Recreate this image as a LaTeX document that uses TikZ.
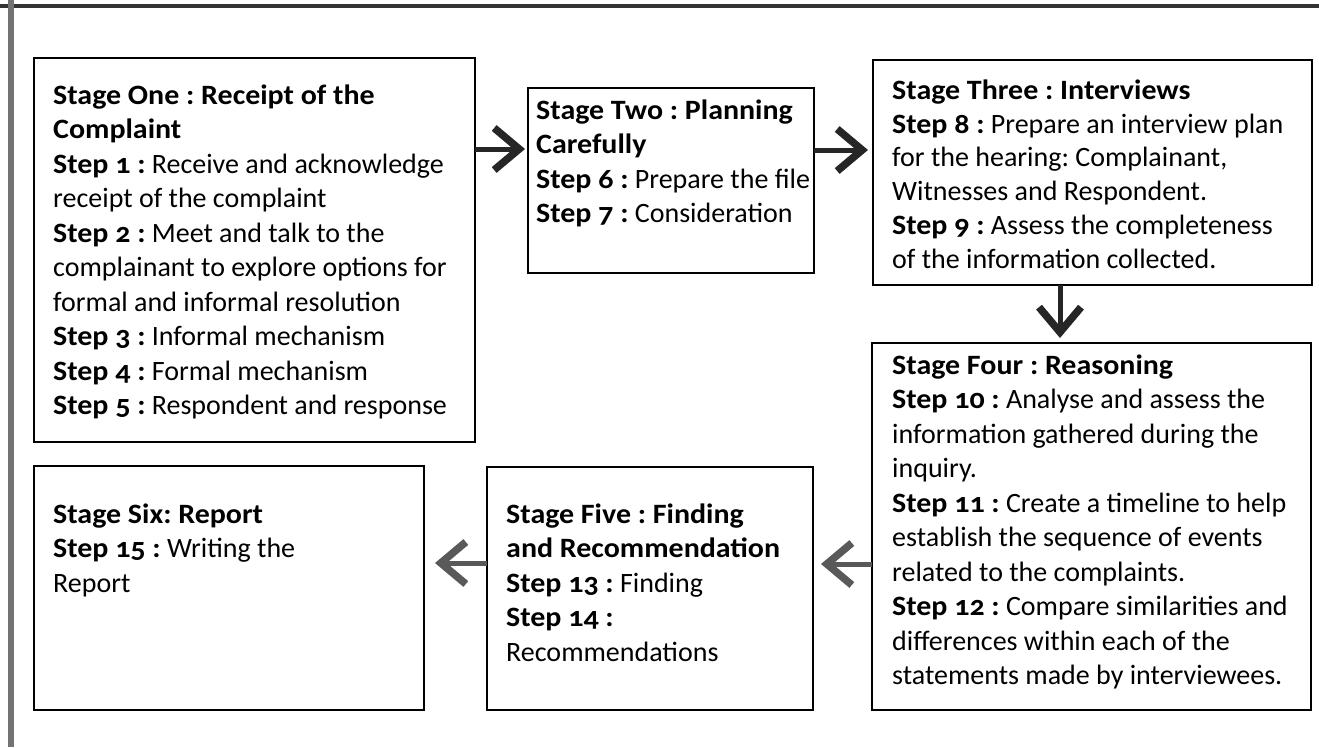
\documentclass[tikz,border=0pt]{standalone}
\usepackage{fontspec}
\setmainfont{Carlito}[Numbers=OldStyle, BoldFeatures={FakeStretch=1.07}]
\usetikzlibrary{arrows.meta}
\frenchspacing
\begin{document}
\begin{tikzpicture}[x=1pt,y=-1pt,
  box/.style={draw=black, line width=2.6pt, anchor=north west, inner sep=0pt, outer sep=0pt},
  txt/.style={anchor=north west, inner sep=0pt, align=left, text=black,
    font=\fontsize{28}{34.5}\selectfont\frenchspacing},
  txtb/.style={txt, font=\fontsize{28}{33.8}\selectfont\frenchspacing},
  conn/.style={line width=5pt, draw=black!85,
    -{Straight Barb[length=25pt,width=42pt,line width=7.5pt]}},
  connl/.style={conn, draw=black!65}
]
\useasboundingbox (0,0) rectangle (1319,747);
% page frame
\draw[line width=4pt, black!80] (0,5.5) -- (1319,5.5);
\draw[line width=6pt, black!55] (11,0) -- (11,747);

% boxes
\node[box, minimum width=441, minimum height=384] (b1) at (34,58) {};
\node[box, minimum width=286, minimum height=185] (b2) at (528,88) {};
\node[box, minimum width=439, minimum height=225] (b3) at (873,60) {};
\node[box, minimum width=439, minimum height=367] (b4) at (872,343) {};
\node[box, minimum width=326, minimum height=243] (b5) at (487,467) {};
\node[box, minimum width=390, minimum height=244] (b6) at (34,466) {};

% texts
\node[txt] (t1) at (53,{104-24.15}) {\strut\textbf{Stage One : Receipt of the}\\
\textbf{Complaint}\\
\textbf{Step 1 :} Receive and acknowledge\\
receipt of the complaint\\
\textbf{Step 2 :} Meet and talk to the\\
complainant to explore options for\\
formal and informal resolution\\
\textbf{Step 3 :} Informal mechanism\\
\textbf{Step 4 :} Formal mechanism\\
\textbf{Step 5 :} Respondent and response};

\node[txt] (t2) at (536,{119-24.15}) {\strut\textbf{Stage Two : Planning}\\
\textbf{Carefully}\\
\textbf{Step 6 :} Prepare the file\\
\textbf{Step 7 :} Consideration};

\node[txtb] (t3) at (892,{99-23.66}) {\strut\textbf{Stage Three : Interviews}\\
\textbf{Step 8 :} Prepare an interview plan\\
for the hearing: Complainant,\\
Witnesses and Respondent.\\
\textbf{Step 9 :} Assess the completeness\\
of the information collected.};

\node[txt] (t4) at (892,{374-24.15}) {\strut\textbf{Stage Four : Reasoning}\\
\textbf{Step 10 :} Analyse and assess the\\
information gathered during the\\
inquiry.\\
\textbf{Step 11 :} Create a timeline to help\\
establish the sequence of events\\
related to the complaints.\\
\textbf{Step 12 :} Compare similarities and\\
differences within each of the\\
statements made by interviewees.};

\node[txt] (t5) at (506,{523-24.15}) {\strut\textbf{Stage Five : Finding}\\
\textbf{and Recommendation}\\
\textbf{Step 13 :} Finding\\
\textbf{Step 14 :}\\
Recommendations};

\node[txt] (t6) at (53,{523-24.15}) {\strut\textbf{Stage Six: Report}\\
\textbf{Step 15 :} Writing the\\
Report};

% connector levels
\coordinate (y12) at (0,149);
\coordinate (y23) at (0,150);
\coordinate (x34) at (1060,0);
\coordinate (y45) at (0,564);
\coordinate (y56) at (0,563);

\draw[conn, shorten >=3pt] (b1.east |- y12) -- (b2.west |- y12);
\draw[conn, shorten >=5pt] (b2.east |- y23) -- (b3.west |- y23);
\draw[conn, shorten >=5pt] (b3.south -| x34) -- (b4.north -| x34);
\draw[connl, shorten >=8pt] (b4.west |- y45) -- (b5.east |- y45);
\draw[connl, shorten >=11pt] (b5.west |- y56) -- (b6.east |- y56);
\end{tikzpicture}
\end{document}
